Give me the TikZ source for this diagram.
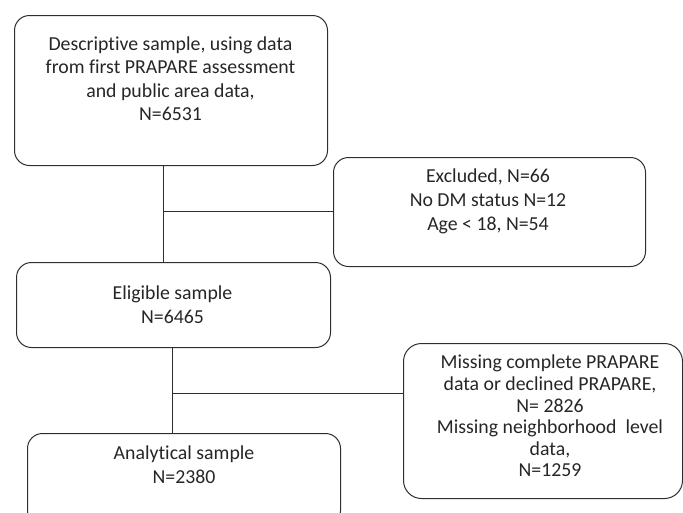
\documentclass[tikz,border=0pt]{standalone}
\usepackage{fontspec}
\setmainfont{Carlito}[Ligatures=NoCommon]
\definecolor{linec}{HTML}{2E2E2E}
\definecolor{txtc}{HTML}{262626}
\begin{document}
\begin{tikzpicture}[x=1pt,y=-1pt,
  box/.style={draw=linec,line width=1pt,rounded corners=15pt,inner sep=0pt,anchor=north west},
  txt/.style={text=txtc,font=\fontsize{19.8}{23.5}\selectfont,align=center,inner sep=0pt,anchor=north},
  conn/.style={draw=linec,line width=1pt}]
\useasboundingbox (0,0) rectangle (683,512);
\clip (0,0) rectangle (683,512);
% boxes
\node[box,minimum width=313pt,minimum height=150pt] (b1) at (14,15) {};
\node[box,minimum width=312pt,minimum height=109pt] (b3) at (333,157) {};
\node[box,minimum width=314pt,minimum height=85pt] (b2) at (16,262) {};
\node[box,minimum width=279pt,minimum height=155pt,rounded corners=18pt] (b4) at (403,343) {};
\node[box,minimum width=313pt,minimum height=92pt] (b5) at (27,433) {};
% texts
\node[txt] (t1) at (170.5,36.5) {Descriptive sample, using data\\from first PRAPARE assessment\\and public area data,\\N=6531};
\node[txt,font=\fontsize{19.8}{24}\selectfont] (t3) at (488,169) {Excluded, N=66\\No DM status N=12\\Age {<} 18, N=54};
\node[txt,font=\fontsize{19.8}{24}\selectfont] (t2) at (172.5,286) {Eligible sample\\N=6465};
\node[txt,font=\fontsize{19.8}{24}\selectfont] (t5) at (184,446) {Analytical sample\\N=2380};
\node[txt,font=\fontsize{19.8}{21.6}\selectfont] (t4) at (550,355) {Missing complete PRAPARE\\data or declined PRAPARE,\\N= 2826\\Missing neighborhood\ \ level\\data,\\N=1259};
% connectors
\coordinate (j1) at (163,211);
\coordinate (j2) at (172,393);
\draw[conn] (b1.south -| j1) -- (b2.north -| j1);
\draw[conn] (j1) -- (j1 -| b3.west);
\draw[conn] (b2.south -| j2) -- (b5.north -| j2);
\draw[conn] (j2) -- (j2 -| b4.west);
\end{tikzpicture}
\end{document}
